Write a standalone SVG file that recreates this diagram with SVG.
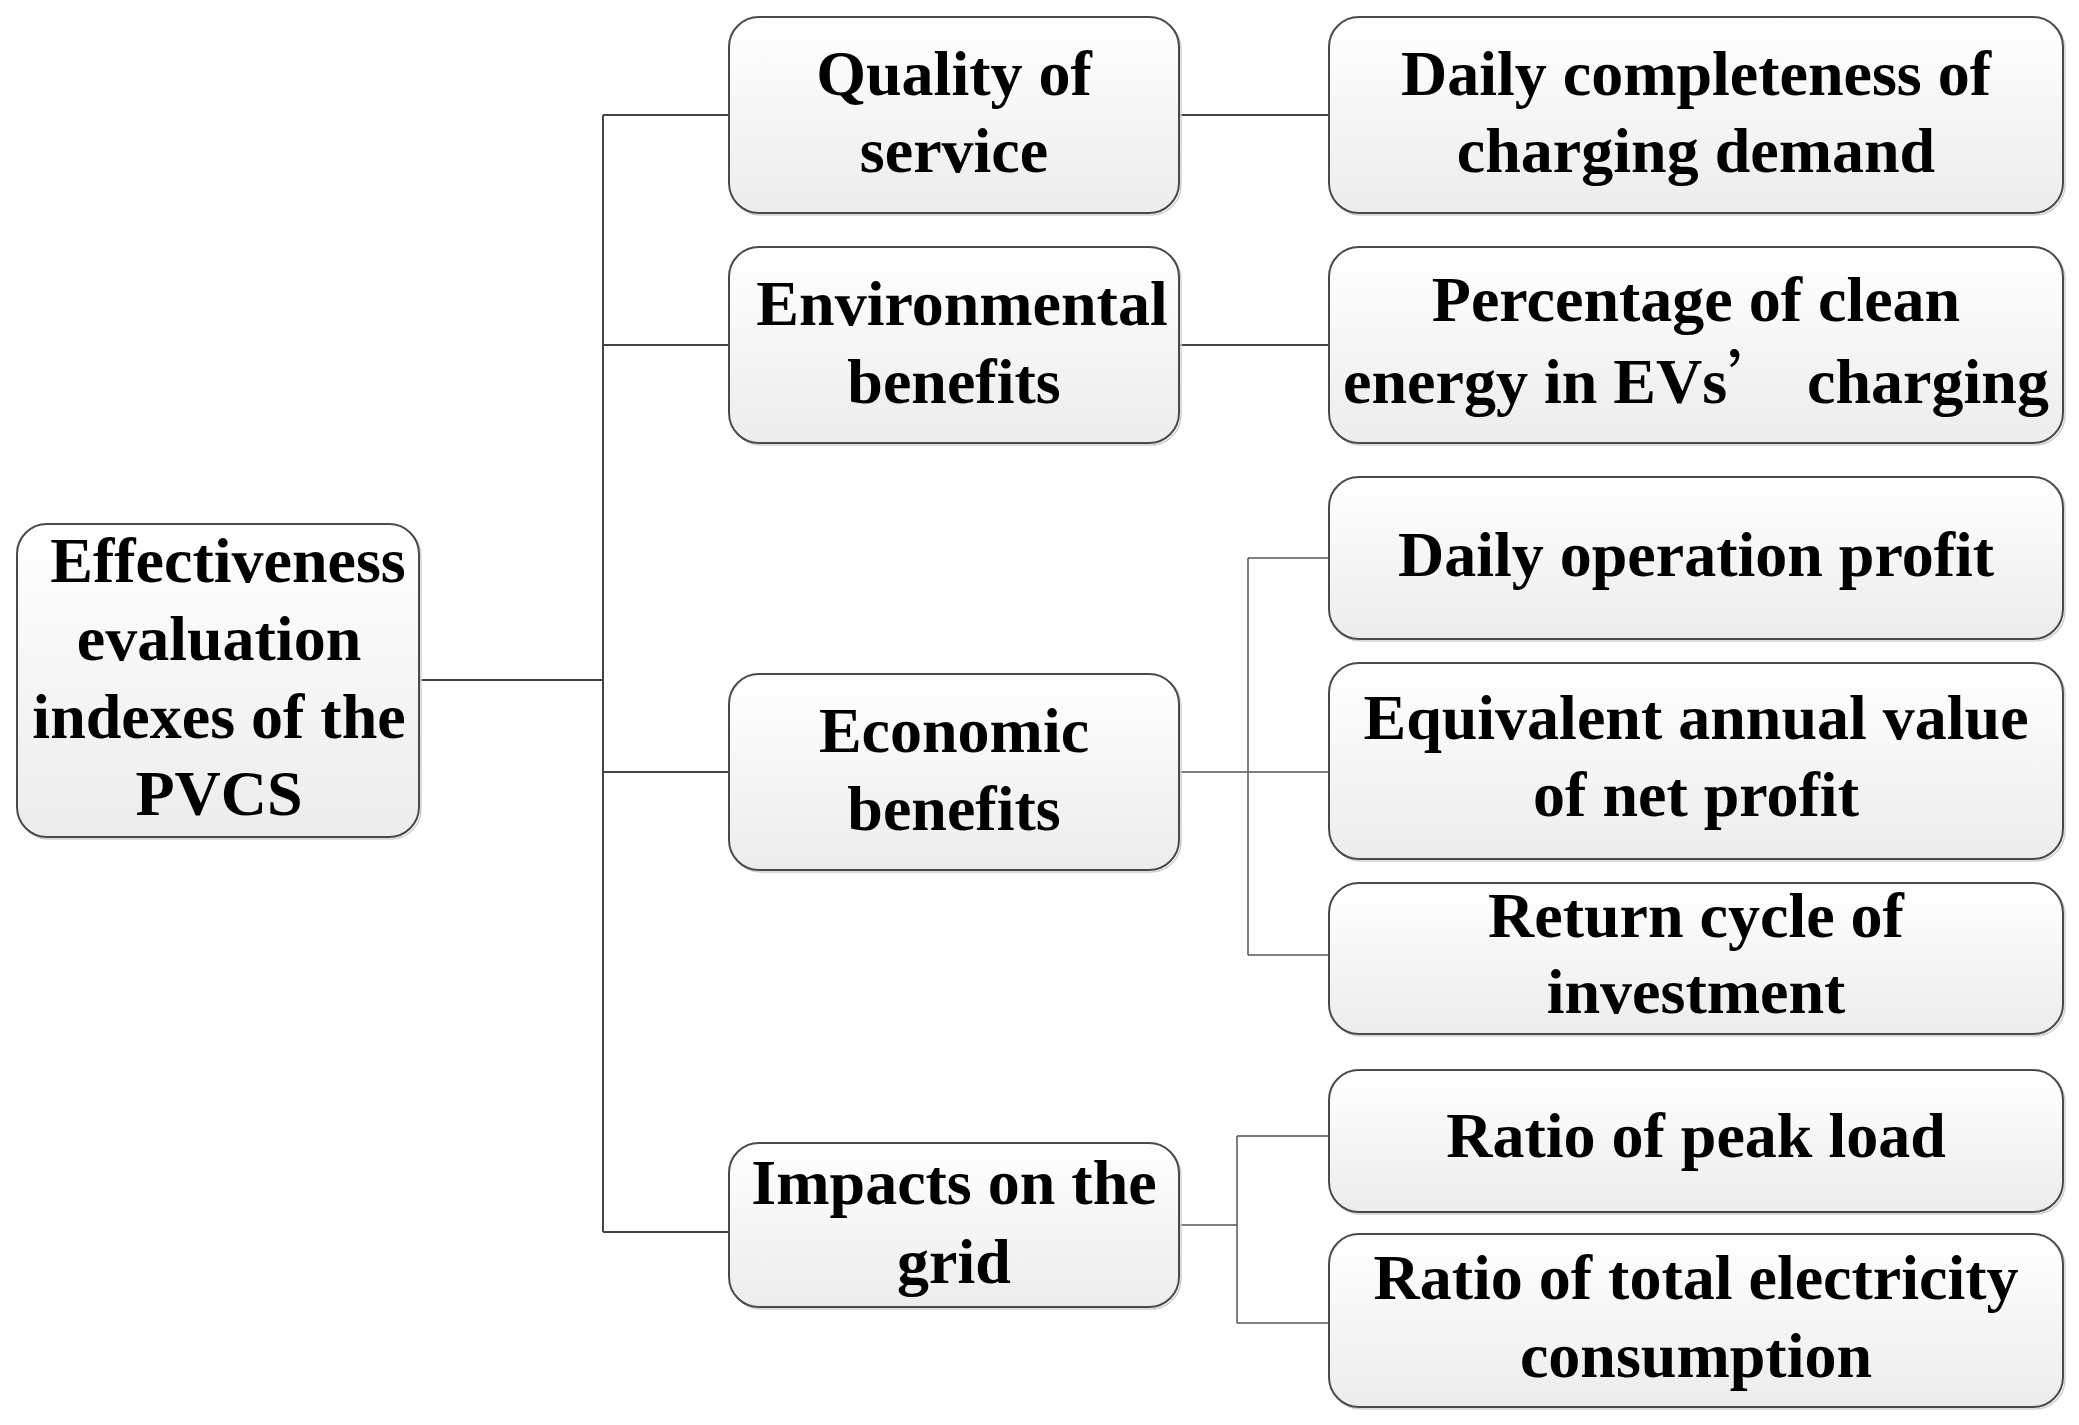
<svg xmlns="http://www.w3.org/2000/svg" width="2079" height="1425" viewBox="0 0 2079 1425">
<defs>
<linearGradient id="g" x1="0" y1="0" x2="0" y2="1">
<stop offset="0" stop-color="#ffffff"/>
<stop offset="1" stop-color="#ececec"/>
</linearGradient>
<style>
.box{fill:url(#g);stroke:#4a4a4a;stroke-width:2}
.sh{fill:none;stroke:#d0d0d0;stroke-width:1.5}
.t{font-family:"Liberation Serif","Times New Roman",serif;font-weight:bold;font-size:64px;fill:#000;text-anchor:middle}
.c{fill:none;stroke:#444;stroke-width:2}
.c2{fill:none;stroke:#555;stroke-width:1.5}
</style>
</defs>
<rect width="2079" height="1425" fill="#fff"/>
<g id="connectors">
<path class="c" d="M419 680H603M603 115V1232M603 115H729M603 345H729M603 772H729M603 1232H729"/>
<path class="c" d="M1179 115H1329M1179 345H1329"/>
<path class="c2" d="M1179 772H1329M1248 558V955M1248 558H1329M1248 955H1329"/>
<path class="c2" d="M1179 1225H1237M1237 1136V1323M1237 1136H1329M1237 1323H1329"/>
</g>
<g id="root">
<rect class="sh" x="19" y="526" width="402" height="313" rx="30"/>
<rect class="box" x="17" y="524" width="402" height="313" rx="30"/>
<text class="t" x="228" y="582">Effectiveness</text>
<text class="t" x="219" y="660">evaluation</text>
<text class="t" x="219" y="738">indexes of the</text>
<text class="t" x="219" y="815">PVCS</text>
</g>
<g id="quality">
<rect class="sh" x="731" y="19" width="450" height="196" rx="30"/>
<rect class="box" x="729" y="17" width="450" height="196" rx="30"/>
<text class="t" x="954" y="95">Quality of</text>
<text class="t" x="954" y="172">service</text>
</g>
<g id="environmental">
<rect class="sh" x="731" y="249" width="450" height="196" rx="30"/>
<rect class="box" x="729" y="247" width="450" height="196" rx="30"/>
<text class="t" x="962" y="325">Environmental</text>
<text class="t" x="954" y="403">benefits</text>
</g>
<g id="economic">
<rect class="sh" x="731" y="676" width="450" height="196" rx="30"/>
<rect class="box" x="729" y="674" width="450" height="196" rx="30"/>
<text class="t" x="954" y="752">Economic</text>
<text class="t" x="954" y="830">benefits</text>
</g>
<g id="impacts">
<rect class="sh" x="731" y="1145" width="450" height="164" rx="30"/>
<rect class="box" x="729" y="1143" width="450" height="164" rx="30"/>
<text class="t" x="954" y="1204">Impacts on the</text>
<text class="t" x="954" y="1283">grid</text>
</g>
<g id="daily-completeness">
<rect class="sh" x="1331" y="19" width="734" height="196" rx="30"/>
<rect class="box" x="1329" y="17" width="734" height="196" rx="30"/>
<text class="t" x="1696" y="95">Daily completeness of</text>
<text class="t" x="1696" y="172">charging demand</text>
</g>
<g id="clean-energy">
<rect class="sh" x="1331" y="249" width="734" height="196" rx="30"/>
<rect class="box" x="1329" y="247" width="734" height="196" rx="30"/>
<text class="t" x="1696" y="321">Percentage of clean</text>
<text class="t" x="1696" y="403">energy in EVs<tspan font-family="'Noto Sans CJK SC',sans-serif" font-weight="normal">’</tspan> charging</text>
</g>
<g id="daily-profit">
<rect class="sh" x="1331" y="479" width="734" height="162" rx="30"/>
<rect class="box" x="1329" y="477" width="734" height="162" rx="30"/>
<text class="t" x="1696" y="576">Daily operation profit</text>
</g>
<g id="annual-value">
<rect class="sh" x="1331" y="665" width="734" height="196" rx="30"/>
<rect class="box" x="1329" y="663" width="734" height="196" rx="30"/>
<text class="t" x="1696" y="739">Equivalent annual value</text>
<text class="t" x="1696" y="816">of net profit</text>
</g>
<g id="return-cycle">
<rect class="sh" x="1331" y="885" width="734" height="151" rx="30"/>
<rect class="box" x="1329" y="883" width="734" height="151" rx="30"/>
<text class="t" x="1696" y="937">Return cycle of</text>
<text class="t" x="1696" y="1013">investment</text>
</g>
<g id="peak-load">
<rect class="sh" x="1331" y="1072" width="734" height="142" rx="30"/>
<rect class="box" x="1329" y="1070" width="734" height="142" rx="30"/>
<text class="t" x="1696" y="1157">Ratio of peak load</text>
</g>
<g id="electricity">
<rect class="sh" x="1331" y="1236" width="734" height="173" rx="30"/>
<rect class="box" x="1329" y="1234" width="734" height="173" rx="30"/>
<text class="t" x="1696" y="1299">Ratio of total electricity</text>
<text class="t" x="1696" y="1377">consumption</text>
</g>
</svg>
